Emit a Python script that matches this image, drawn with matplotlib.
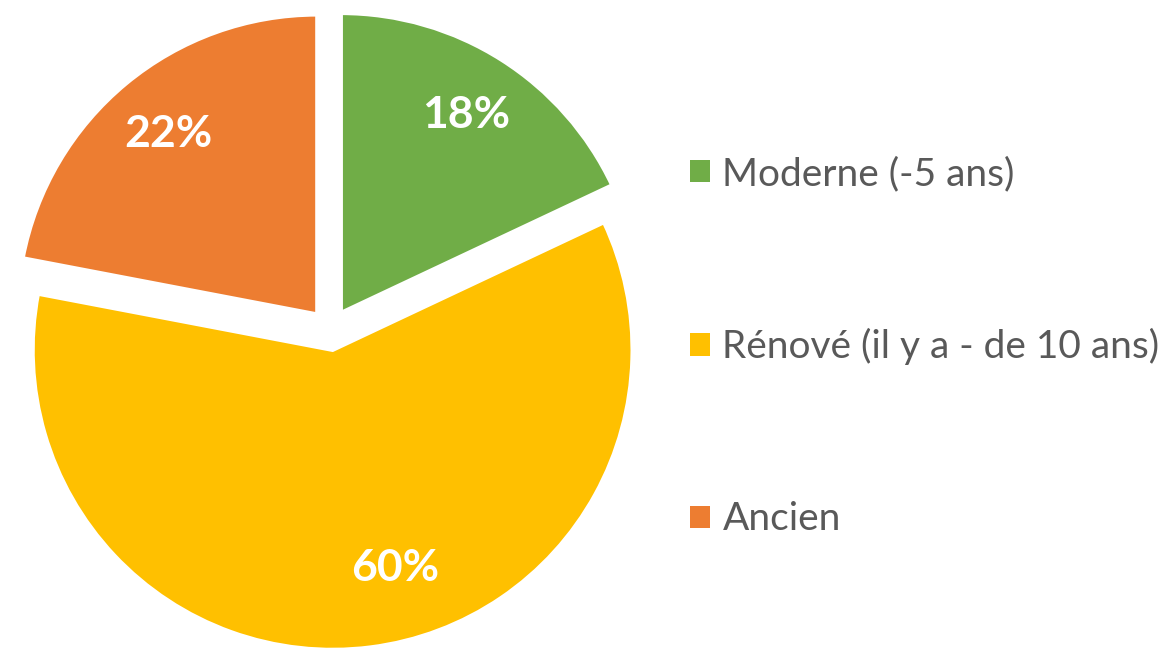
import matplotlib.pyplot as plt

# data
labels = ['Moderne (-5 ans)', 'Rénové (il y a - de 10 ans)', 'Ancien']
values = [18, 60, 22]
colors = ['#70AD47', '#FFC000', '#ED7D31']
explode = [0.067, 0.067, 0.067]

plt.rcParams['font.family'] = ['Lato', 'DejaVu Sans']

fig = plt.figure(figsize=(11.62, 6.53), dpi=100)
ax = fig.add_axes([0, 0, 1, 1])

wedges, texts, autotexts = ax.pie(
    values, colors=colors, explode=explode, startangle=90, counterclock=False,
    autopct='%1.0f%%', pctdistance=0.78, radius=1.0,
    wedgeprops=dict(edgecolor='white', linewidth=3),
    textprops=dict(color='white', fontsize=32, fontweight='bold'))
# Excel puts the big slice's label a bit right of its bisector
autotexts[1].set_position((0.217, -0.793))

ax.set_xlim(-1.1, 2.773)
ax.set_ylim(-1.077, 1.1)
ax.set_aspect('equal')
ax.axis('off')

leg = ax.legend(wedges, labels, loc='upper left', bbox_to_anchor=(0.594, 0.761),
                frameon=False, fontsize=28, labelspacing=3.5,
                handlelength=0.5, handleheight=0.5, handletextpad=0.33,
                borderaxespad=0, borderpad=0)
for t in leg.get_texts():
    t.set_color('#595959')
for h in leg.legend_handles:
    h.set_edgecolor('none')

fig.savefig('out.png', dpi=100)
